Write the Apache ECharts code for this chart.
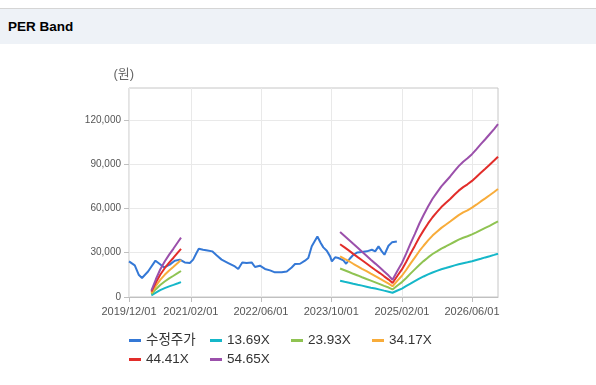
<!DOCTYPE html>
<html>
<head>
<meta charset="utf-8">
<script src="https://cdn.jsdelivr.net/npm/echarts@6/dist/echarts.min.js"></script>
<style>
html,body{margin:0;padding:0;background:#fff;width:596px;height:385px;overflow:hidden}
#hdr{position:absolute;left:0;top:8px;width:596px;height:35px;background:#eef2f7;border-top:1px solid #d5d5d5}
#hdr span{position:absolute;left:8px;top:10px;font:bold 13.5px "Liberation Sans",Arial,sans-serif;color:#000}
#chart{position:absolute;left:0;top:0;width:596px;height:385px}
</style>
</head>
<body>
<div id="hdr"><span>PER Band</span></div>
<div id="chart"></div>
<script>
// ---- data ----
const seriesNames = ['수정주가', '13.69X', '23.93X', '34.17X', '44.41X', '54.65X'];
const xTickLabels = ['2019-12-01', '2021-02-01', '2022-06-01', '2023-10-01', '2025-02-01', '2026-06-01'];
const yTickValues = [0, 30000, 60000, 90000, 120000];

const priceDates = ['2019-12-01','2020-01-10','2020-02-06','2020-02-29','2020-04-11','2020-06-01','2020-07-01','2020-07-31','2020-09-08','2020-10-13','2020-11-17','2020-12-21','2021-01-25','2021-02-17','2021-03-12','2021-03-28','2021-04-27','2021-05-28','2021-06-29','2021-07-29','2021-09-02','2021-10-18','2021-12-03','2021-12-26','2022-01-23','2022-02-22','2022-03-29','2022-04-21','2022-05-25','2022-06-29','2022-08-03','2022-09-06','2022-10-23','2022-11-27','2022-12-31','2023-01-23','2023-02-27','2023-04-02','2023-04-25','2023-05-19','2023-06-27','2023-07-20','2023-08-07','2023-08-31','2023-09-23','2023-10-05','2023-10-28','2023-11-19','2023-12-01','2023-12-24','2024-01-12','2024-02-04','2024-03-02','2024-03-30','2024-04-30','2024-06-03','2024-07-08','2024-07-31','2024-08-23','2024-09-15','2024-10-03','2024-10-31','2024-11-24','2024-12-28'];
const priceValues = [24100,21400,15100,12900,17300,24600,22300,20000,21900,24600,25300,23400,23000,25300,29800,32700,32000,31500,30900,28200,25300,23000,20700,19000,23400,23000,23400,20300,21200,19000,18000,16700,16700,17300,20000,22300,22500,24600,26400,34300,41000,36600,33600,31300,27500,24100,26900,26400,26400,24800,22500,25700,28600,30200,30500,30900,32000,30900,34300,30900,28600,34700,37000,37600];

const bandDates = ['2020-05-04','2020-06-04','2020-07-04','2020-08-04','2020-09-04','2020-10-04','2020-11-04','2020-11-25',
  '2022-01-01',
  '2023-12-01','2024-01-01','2024-02-01','2024-03-01','2024-04-01','2024-05-01','2024-06-01','2024-07-01','2024-08-01','2024-09-01','2024-10-01','2024-11-01','2024-11-28',
  '2025-01-01','2025-02-01','2025-03-01','2025-04-01','2025-05-01','2025-06-01','2025-07-01','2025-08-01','2025-09-01','2025-10-01','2025-11-01','2025-12-01','2026-01-01','2026-02-01','2026-03-01','2026-04-01','2026-05-01','2026-06-01','2026-07-01','2026-08-01','2026-09-01','2026-10-01','2026-11-01','2026-11-28'];

const per1369 = [1100,3000,4700,6000,7200,8200,9300,10100, null,
  11000,10300,9700,9000,8300,7700,7000,6300,5700,5000,4300,3600,2900,
  4400,5700,7300,9000,10700,12400,13900,15300,16600,17700,18800,19600,20500,21400,22200,22900,23500,24200,25100,25900,26800,27600,28500,29300];
const per2393 = [1900,5300,8100,10500,12600,14400,16300,17600, null,
  19300,18100,16900,15700,14600,13400,12200,11100,9900,8700,7500,6400,5100,
  7800,10100,12700,15800,18700,21700,24300,26800,29100,30900,32800,34200,35800,37400,38800,40100,41100,42400,43800,45300,46800,48200,49800,51200];
const per3417 = [2700,7500,11600,15000,17900,20500,23200,25100, null,
  27500,25800,24200,22500,20800,19100,17500,15800,14100,12400,10800,9100,7300,
  11100,14400,18100,22600,26700,31000,34700,38300,41600,44200,46800,48900,51100,53400,55400,57300,58700,60500,62500,64700,66800,68900,71100,73100];
const per4441 = [3600,9800,15100,19500,23300,26600,30200,32600, null,
  35700,33600,31400,29200,27000,24900,22700,20500,18300,16200,14000,11800,9500,
  14400,18700,23500,29300,34600,40300,45100,49800,54000,57400,60900,63600,66300,69400,72000,74400,76300,78600,81300,84100,86800,89500,92400,95000];
const per5465 = [4400,12000,18600,24000,28700,32800,37200,40200, null,
  44000,41300,38600,36000,33300,30600,27900,25200,22600,19900,17200,14500,11700,
  17800,23000,29000,36100,42600,49600,55500,61300,66500,70700,74900,78200,81600,85400,88600,91600,93900,96700,100000,103500,106800,110200,113700,117000];

// ---- helpers ----
function ts(s){ const p = s.split('-'); return Date.UTC(+p[0], +p[1]-1, +p[2]); }
function pad(n){ return (n<10?'0':'')+n; }
function fmtDate(v){ const t = new Date(v); return t.getUTCFullYear()+'/'+pad(t.getUTCMonth()+1)+'/'+pad(t.getUTCDate()); }
function fmtNum(v){ return String(Math.round(v)).replace(/\B(?=(\d{3})+(?!\d))/g, ','); }
function zip(dates, vals){ return dates.map((d,i)=>[ts(d), vals[i] == null ? '-' : vals[i]]); }

const colors = ['#3478d6', '#15b7c9', '#8fc352', '#f8ac3a', '#e22d2a', '#9b50ab'];
const bandArrays = [per1369, per2393, per3417, per4441, per5465];
const xTicks = xTickLabels.map(ts);
const FONT = '"Liberation Sans", Arial, "Noto Sans CJK KR", sans-serif';

const series = [{
  name: seriesNames[0], type: 'line', data: zip(priceDates, priceValues),
  showSymbol: false, symbol: 'none', lineStyle: {width: 2, color: colors[0]}, itemStyle: {color: colors[0]}, z: 2
}];
bandArrays.forEach((arr, i) => {
  series.push({
    name: seriesNames[i+1], type: 'line', data: zip(bandDates, arr), connectNulls: false,
    showSymbol: false, symbol: 'none', lineStyle: {width: 2, color: colors[i+1]}, itemStyle: {color: colors[i+1]}, z: 3
  });
});

const chart = echarts.init(document.getElementById('chart'), null, {renderer: 'canvas'});
chart.setOption({
  animation: false,
  textStyle: {fontFamily: FONT},
  grid: {left: 129, right: 98, top: 88, bottom: 88, show: true, borderColor: '#c6c6c6', borderWidth: 1, backgroundColor: '#fff'},
  xAxis: {
    type: 'value', min: ts('2019-12-01'), max: ts('2026-11-28'),
    axisLine: {show: true, lineStyle: {color: '#c0c0c0'}},
    axisTick: {show: true, length: 5, customValues: xTicks, lineStyle: {color: '#c0c0c0'}},
    axisLabel: {customValues: xTicks, formatter: v => fmtDate(v), fontSize: 11, color: '#555', margin: 9, fontFamily: FONT, hideOverlap: false},
    splitLine: {show: true, lineStyle: {color: '#e9e9e9'}}
  },
  yAxis: {
    type: 'value', min: 0, max: 141500, interval: 30000,
    name: '(원)', nameLocation: 'end', nameGap: 7,
    nameTextStyle: {fontSize: 13, color: '#666', fontFamily: FONT, align: 'right', padding: [0, -5, 0, 0]},
    axisLine: {show: false},
    axisTick: {show: true, length: 5, customValues: yTickValues, lineStyle: {color: '#c0c0c0'}},
    axisLabel: {customValues: yTickValues, formatter: v => fmtNum(v), fontSize: 10, color: '#555', margin: 8, fontFamily: FONT},
    splitLine: {show: true, lineStyle: {color: '#e9e9e9'}}
  },
  legend: {
    data: seriesNames, left: 124, top: 328, width: 330,
    icon: 'rect', itemWidth: 12, itemHeight: 3, itemGap: 4,
    textStyle: {fontSize: 13.5, color: '#333', width: 60, lineHeight: 15, fontFamily: FONT},
    selectedMode: false
  },
  series: series
});
</script>
</body>
</html>
